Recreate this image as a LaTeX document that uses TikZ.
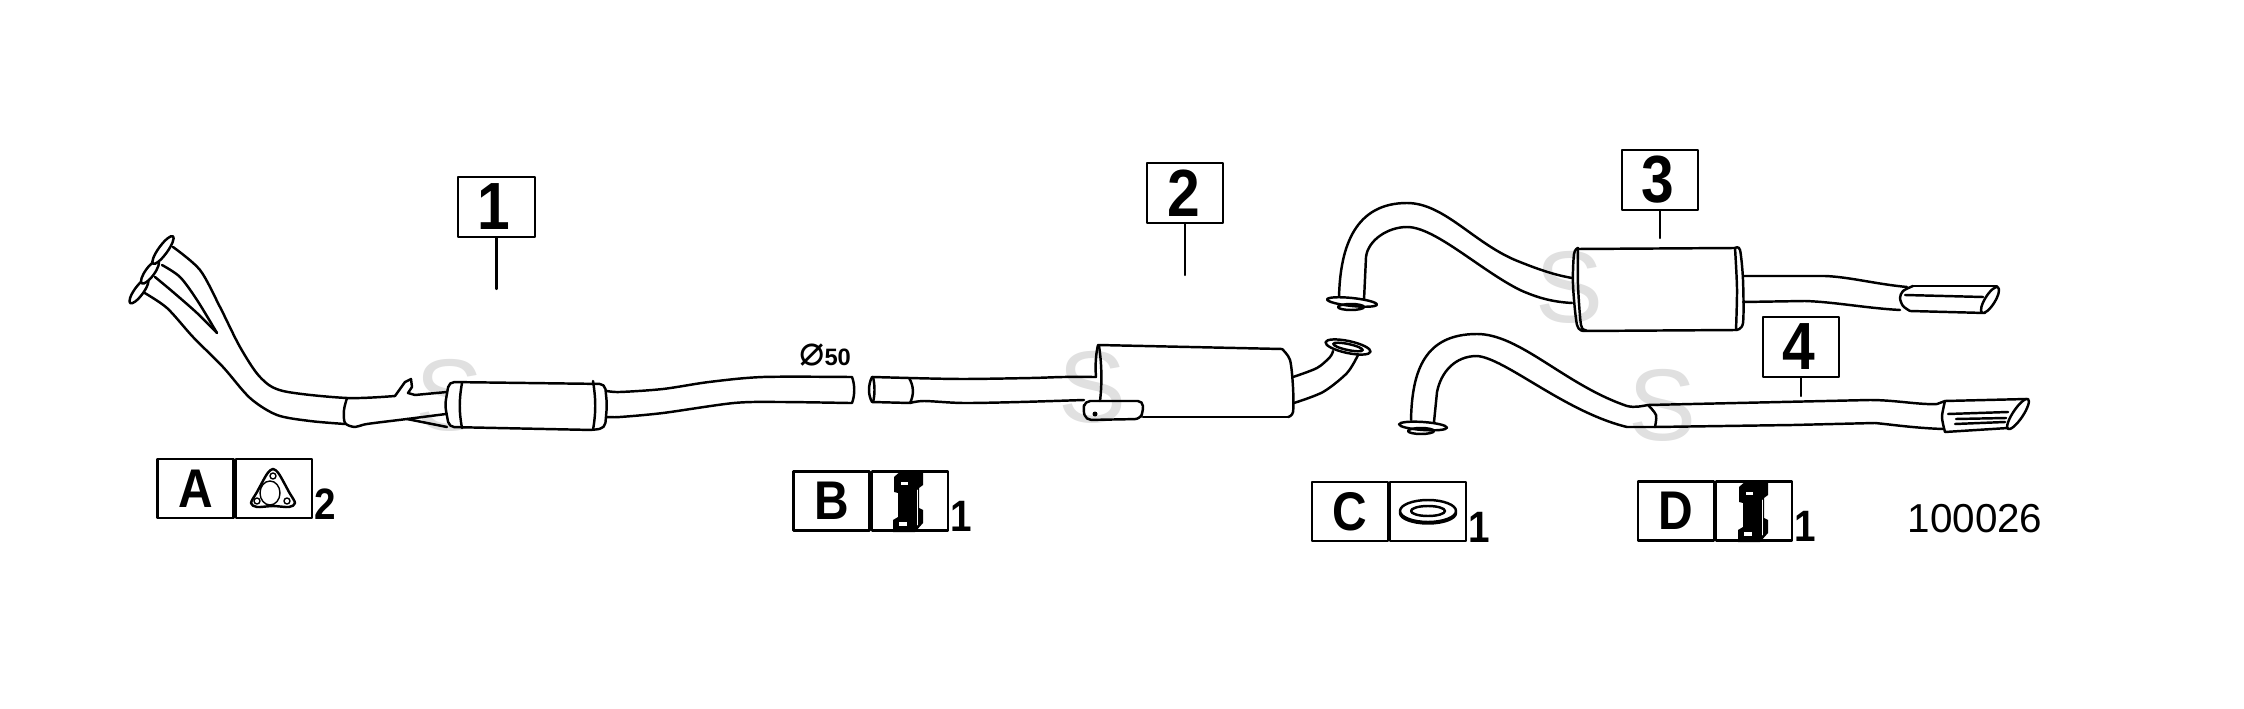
\documentclass[tikz,border=0pt]{standalone}
\usepackage{fontspec}
\setmainfont{Liberation Sans}
\newfontfamily\symfont{DejaVu Sans}
\newfontfamily\narrowfont[FakeStretch=.88]{Liberation Sans Bold}
\usepackage{tikz}

\begin{document}
\begin{tikzpicture}
[x=.02cm,y=-.02cm,line width=1.4pt,line cap=round,line join=round]
\tikzset{numbox/.style={draw,line width=1.2pt,minimum width=43.6pt,minimum height=34pt,inner sep=0pt,font=\narrowfont\fontsize{38}{38}\selectfont}}
\tikzset{kitbox/.style={draw,line width=1.2pt,minimum width=43.3pt,minimum height=33.6pt,inner sep=0pt,font=\narrowfont\fontsize{31}{31}\selectfont}}
\tikzset{kitcount/.style={inner sep=0pt,anchor=base west,font=\narrowfont\fontsize{25}{25}\selectfont}}
\tikzset{ghost/.style={text=black!12,inner sep=0pt,font=\fontsize{58}{58}\selectfont}}
\useasboundingbox (0,0) rectangle (2244,709);

% grey letters behind the parts
\foreach \name/\x/\y in {s1/449/395,s2/1092/387,s3/1569/287,s4/1662/405}
	\node [ghost] (\name) at (\x,\y) {S};

% part 1
\node [numbox] (n1) at (496.5,207) {1\kern3pt};
\coordinate (e1) at (496.5,289);
\draw plot[smooth] coordinates {(173,247) (200,270) (220,307) (240,347) (260,377) (283,391) (347,398) (395,396)};
\draw (395,396) -- (405,382) -- (411,379) -- (412,387) -- (408,393) -- (415,395) -- (447,392);
\draw plot[smooth] coordinates {(143,292) (167,308) (193,337) (223,367) (250,398) (277,415) (310,421) (345,424)};
\draw plot[smooth] coordinates {(162,265) (180,277) (197,300) (217,333)};
\draw plot[smooth] coordinates {(155,277) (173,292) (197,313) (217,333)};
\draw plot[smooth] coordinates {(347,398) (344,410) (345,423) (355,427) (367,424) (407,419) (446,414)};
\draw (407,419) -- (447,427);
\foreach \cx/\cy/\rx in {139/291/15,150/272/14,163/250/17}
	\draw [fill=white,rotate around={54:(\cx,\cy)}] (\cx,\cy) ellipse [x radius=\rx,y radius=4.5];
\draw [fill=white,rounded corners=3pt] (449,382) -- (605,384) -- (607,405) -- (605,428) -- (593,430) -- (449,427) -- (445,405) -- cycle;
\draw (462,383) .. controls (459,400) and (459,412) .. (462,428);
\draw (593,381) .. controls (596,400) and (596,412) .. (593,430);
\draw plot[smooth] coordinates {(607,391) (620,392) (663,389) (709,382) (763,377) (849,377)};
\draw plot[smooth] coordinates {(607,417) (620,417) (663,413) (734,403) (781,402) (849,403)};
\draw (849,377) -- (852,377) .. controls (855,385) and (855,395) .. (852,403) -- (849,403);
\node [font=\bfseries\fontsize{13.5}{13.5}\selectfont,inner sep=0pt] (dia) at (825,355) {{\symfont\mdseries\fontsize{24}{24}\selectfont ⌀}50};

% part 2
\node [numbox] (n2) at (1185,193) {2\kern1pt};
\coordinate (e2) at (1185,275);
\draw (872,377) -- (909,378) .. controls (914,386) and (914,395) .. (910,403) -- (872,402);
\draw (872,377) .. controls (868,385) and (868,395) .. (872,402);
\draw (873,377) .. controls (875,385) and (875,395) .. (873,402);
\draw plot[smooth] coordinates {(909,378) (963,379) (1031,378) (1063,377) (1096,377)};
\draw plot[smooth] coordinates {(910,403) (924,401) (963,403) (1020,402) (1084,400)};
\draw (1096,377) .. controls (1095,365) and (1096,353) .. (1098,345) -- (1282,349);
\draw (1099,346) .. controls (1102,365) and (1102,385) .. (1100,401);
\draw plot[smooth] coordinates {(1282,349) (1290,360) (1293,387) (1293,412) (1288,417)};
\draw (1288,417) -- (1143,417);
\draw [rounded corners=3pt] (1085,401) -- (1143,401) -- (1143,412) -- (1140,419) -- (1086,420) -- (1083,410) -- cycle;
\fill (1095,414) circle [radius=2.5];
\draw plot[smooth] coordinates {(1293,377) (1317,368) (1330,357) (1333,351)};
\draw plot[smooth] coordinates {(1294,403) (1323,392) (1347,373) (1358,355)};
\draw [fill=white,rotate around={-12:(1348,347)}] (1348,347) ellipse [x radius=23,y radius=6];
\draw [rotate around={-12:(1348,347)}] (1348,347) ellipse [x radius=15,y radius=3];

% part 3
\node [numbox] (n3) at (1660,180) {3\kern3pt};
\coordinate (e3) at (1660,238);
\draw (1339,298) .. controls (1340,245) and (1356,203) .. (1407,203) .. controls (1445,203) and (1475,245) .. (1520,262) .. controls (1540,270) and (1555,275) .. (1572,278);
\draw (1364,300) -- (1366,257) .. controls (1368,240) and (1388,227) .. (1407,227) .. controls (1435,227) and (1480,270) .. (1520,290) .. controls (1540,299) and (1555,302) .. (1572,303);
\draw [fill=white,rotate around={-6:(1352,302)}] (1352,302) ellipse [x radius=25,y radius=4];
\draw (1351,307) ellipse [x radius=13,y radius=3];
\draw plot[smooth] coordinates {(1578,248) (1574,254) (1573,285) (1577,325) (1584,331)};
\draw plot[smooth] coordinates {(1578,248) (1578,285) (1581,325) (1586,330)};
\draw (1578,249) -- (1735,248);
\draw (1584,331) -- (1736,330);
\draw plot[smooth] coordinates {(1735,248) (1737,289) (1736,330)};
\draw plot[smooth] coordinates {(1735,248) (1740,250) (1743,280) (1743,323) (1736,330)};
\draw (1743,276) -- (1825,276) .. controls (1850,277) and (1875,284) .. (1907,287);
\draw (1743,302) -- (1805,301) .. controls (1835,302) and (1865,308) .. (1900,310);
\draw (1913,286) -- (1997,286);
\draw plot[smooth] coordinates {(1913,286) (1903,291) (1900,298) (1903,306) (1910,311)};
\draw (1910,311) -- (1985,313);
\draw (1905,295) -- (1983,297);
\draw [fill=white,rotate around={58:(1990,300)}] (1990,300) ellipse [x radius=15,y radius=5];

% part 4
\node [numbox] (n4) at (1801,347) {4\kern3pt};
\coordinate (e4) at (1801,396);
\draw (1411,420) .. controls (1412,370) and (1425,334) .. (1477,334) .. controls (1520,334) and (1565,385) .. (1627,406) .. controls (1635,408) and (1642,406) .. (1648,405);
\draw (1434,422) -- (1437,392) .. controls (1441,372) and (1455,356) .. (1477,356) .. controls (1505,358) and (1565,412) .. (1627,427) -- (1655,427);
\draw plot[smooth] coordinates {(1648,405) (1656,415) (1655,427)};
\draw [fill=white,rotate around={-4:(1423,426)}] (1423,426) ellipse [x radius=24,y radius=4];
\draw (1421,431) ellipse [x radius=13,y radius=3];
\draw (1648,405) -- (1870,400) .. controls (1895,400) and (1920,405) .. (1937,404) -- (1945,401);
\draw (1655,427) -- (1793,425) -- (1875,423) .. controls (1895,425) and (1915,428) .. (1943,429);
\draw plot[smooth] coordinates {(1945,401) (1942,417) (1945,432)};
\draw (1945,401) -- (2027,399);
\draw (1945,432) -- (2008,428);
\foreach \xa/\ya/\xb/\yb in {1948/414/2008/412,1956/419/2006/418,1955/424/2005/422}
	\draw (\xa,\ya) -- (\xb,\yb);
\draw [fill=white,rotate around={56:(2018,414)}] (2018,414) ellipse [x radius=18,y radius=5];

\foreach \from/\to in {n1/e1,n2/e2,n3/e3,n4/e4}
	\draw [line width=1.2pt] (\from) -- (\to);

% kits
\foreach \name/\x/\y/\num in {A/195.5/488.5/2,B/831.5/501/1,C/1350/511.5/1,D/1676/511/1}{
	\node [kitbox] (k\name) at (\x,\y) {\name};
	\node [kitbox,anchor=west] (i\name) at (k\name.east) {};
	\node [kitcount] (c\name) at (i\name.south east) {\num};
}
\draw plot[smooth cycle] coordinates {(273,469) (279,474) (289,492) (295,503) (289,507) (273,506) (257,507) (251,503) (257,492) (267,474)};
\draw [line width=.8pt] (270,493) ellipse [x radius=10,y radius=12];
\foreach \cx/\cy in {273/476,257/501,287/501}
	\draw [line width=.8pt] (\cx,\cy) circle [radius=3];
\foreach \dx/\dy in {0/0,845/10}{
	\begin{scope}[shift={(\dx,\dy)}]
	\fill (902,470) -- (923,471) -- (923,485) -- (919,488) -- (919,508) -- (923,510) -- (923,523) -- (915,532) -- (893,532) -- (893,520) -- (898,517) -- (898,493) -- (894,492) -- (894,477) -- cycle;
	\fill [white] (901,482) rectangle (908,485);
	\fill [white] (899,522) rectangle (907,526);
	\draw [white,line width=.5pt] (917,490) -- (917,525);
	\end{scope}
}
\draw (1428,513) ellipse [x radius=28,y radius=10.5];
\draw [fill=white] (1428,511) ellipse [x radius=28,y radius=11];
\draw (1428,511) ellipse [x radius=17,y radius=5];

\node [font=\fontsize{23}{23}\selectfont,inner sep=0pt] (code) at (1975,519) {100026};
\end{tikzpicture}
\end{document}
